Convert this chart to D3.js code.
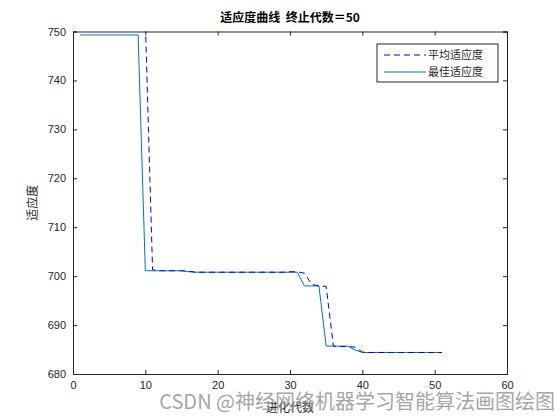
<!DOCTYPE html>
<html>
<head>
<meta charset="utf-8">
<script src="https://cdn.jsdelivr.net/npm/d3@7"></script>
<style>
  body { margin: 0; background: #fff; }
  svg { display: block; }
</style>
</head>
<body>
<svg id="chart" width="560" height="420"></svg>
<script>
// generations 1..51
const generations = d3.range(1, 52);

// best fitness per generation
const bestFitness = [
  749.3, 749.3, 749.3, 749.3, 749.3, 749.3, 749.3, 749.3, 749.3,
  701.1, 701.1, 701.1, 701.1, 701.1, 701.1,
  700.9,
  700.8, 700.8, 700.8, 700.8, 700.8, 700.8, 700.8, 700.8, 700.8, 700.8,
  700.8, 700.8, 700.8, 700.8, 700.8,
  698.0, 698.0, 698.0,
  685.7, 685.7, 685.7, 685.7,
  684.9,
  684.4, 684.4, 684.4, 684.4, 684.4, 684.4, 684.4, 684.4, 684.4, 684.4,
  684.4, 684.4
];

// mean fitness per generation (first ten are above the y range, clipped)
const meanFitness = [
  752.0, 752.0, 752.0, 752.0, 752.0, 752.0, 752.0, 752.0, 752.0, 752.0,
  701.3, 701.1, 701.1, 701.1, 701.1,
  701.0,
  700.8, 700.8, 700.8, 700.8, 700.8, 700.8, 700.8, 700.8, 700.8, 700.8,
  700.8, 700.8, 700.8,
  700.9, 700.9, 700.6, 698.3, 698.0, 697.9,
  685.7, 685.6, 685.6, 685.5,
  684.5, 684.4, 684.4, 684.4, 684.4, 684.4, 684.4, 684.4, 684.4, 684.4,
  684.4, 684.4
];

const xTicks = [0, 10, 20, 30, 40, 50, 60];
const yTicks = [680, 690, 700, 710, 720, 730, 740, 750];

const seriesNames = ["平均适应度", "最佳适应度"];
const titleText = "适应度曲线  终止代数＝50";
const xLabel = "进化代数";
const yLabel = "适应度";
const watermark = "CSDN @神经网络机器学习智能算法画图绘图";

const svg = d3.select("#chart");
const plotLeft = 73, plotRight = 507, plotTop = 31.5, plotBottom = 374;
const axisColor = "#262626";

const x = d3.scaleLinear().domain([0, 60]).range([plotLeft, plotRight]);
const y = d3.scaleLinear().domain([680, 750]).range([plotBottom, plotTop]);

// clip for data
svg.append("clipPath").attr("id", "clip")
  .append("rect")
  .attr("x", plotLeft).attr("y", plotTop)
  .attr("width", plotRight - plotLeft).attr("height", plotBottom - plotTop);

const line = d3.line()
  .x((d, i) => x(generations[i]))
  .y(d => y(d));

const plot = svg.append("g").attr("clip-path", "url(#clip)");

plot.append("path")
  .datum(bestFitness)
  .attr("fill", "none")
  .attr("stroke", "#0072BD")
  .attr("stroke-width", 1)
  .attr("d", line);

plot.append("path")
  .datum(meanFitness)
  .attr("fill", "none")
  .attr("stroke", "#0000FF")
  .attr("stroke-width", 1)
  .attr("stroke-dasharray", "6,4")
  .attr("d", line);

// axes (ticks inward, box on)
const tickFont = "Helvetica, Arial, 'Liberation Sans', sans-serif";

const xAxis = svg.append("g")
  .attr("transform", `translate(0,${plotBottom})`)
  .call(d3.axisBottom(x).tickValues(xTicks).tickSize(-4).tickPadding(7));
const yAxis = svg.append("g")
  .attr("transform", `translate(${plotLeft},0)`)
  .call(d3.axisLeft(y).tickValues(yTicks).tickSize(-4).tickPadding(7));
const xAxisTop = svg.append("g")
  .attr("transform", `translate(0,${plotTop})`)
  .call(d3.axisTop(x).tickValues(xTicks).tickSize(-4).tickFormat(""));
const yAxisRight = svg.append("g")
  .attr("transform", `translate(${plotRight},0)`)
  .call(d3.axisRight(y).tickValues(yTicks).tickSize(-4).tickFormat(""));

[xAxis, yAxis, xAxisTop, yAxisRight].forEach(g => {
  g.select(".domain").attr("stroke", axisColor).attr("stroke-width", 1);
  g.selectAll(".tick line").attr("stroke", axisColor);
  g.selectAll(".tick text")
    .attr("fill", axisColor)
    .style("font-family", tickFont)
    .style("font-size", "11px");
});

// title and labels
const cjk = "'Noto Sans CJK SC', sans-serif";

svg.append("text")
  .attr("x", (plotLeft + plotRight) / 2)
  .attr("y", 22)
  .attr("text-anchor", "middle")
  .style("white-space", "pre")
  .style("font-family", cjk)
  .style("font-weight", "bold")
  .style("font-size", "12px")
  .attr("fill", "#000")
  .text(titleText);

svg.append("text")
  .attr("x", (plotLeft + plotRight) / 2)
  .attr("y", 412)
  .attr("text-anchor", "middle")
  .style("font-family", cjk)
  .style("font-size", "12px")
  .attr("fill", axisColor)
  .text(xLabel);

svg.append("text")
  .attr("transform", `translate(37,${(plotTop + plotBottom) / 2}) rotate(-90)`)
  .attr("text-anchor", "middle")
  .style("font-family", cjk)
  .style("font-size", "12px")
  .attr("fill", axisColor)
  .text(yLabel);

// legend
const legend = svg.append("g").attr("transform", "translate(377,44)");
legend.append("rect")
  .attr("width", 121).attr("height", 38)
  .attr("fill", "#fff")
  .attr("stroke", axisColor)
  .attr("stroke-width", 1);

const legendStyles = [
  { color: "#0000FF", dash: "6,4" },
  { color: "#0072BD", dash: null }
];

seriesNames.forEach((name, i) => {
  const row = legend.append("g").attr("transform", `translate(0,${11 + i * 17})`);
  row.append("line")
    .attr("x1", 7).attr("x2", 49)
    .attr("stroke", legendStyles[i].color)
    .attr("stroke-width", 1)
    .attr("stroke-dasharray", legendStyles[i].dash);
  row.append("text")
    .attr("x", 51)
    .attr("dy", "0.35em")
    .style("font-family", cjk)
    .style("font-size", "11px")
    .attr("fill", axisColor)
    .text(name);
});

// watermark
svg.append("text")
  .attr("x", 555)
  .attr("y", 409)
  .attr("text-anchor", "end")
  .style("font-family", cjk)
  .style("font-size", "20px")
  .attr("fill", "#8c8c8c")
  .attr("fill-opacity", 0.8)
  .text(watermark);
</script>
</body>
</html>
